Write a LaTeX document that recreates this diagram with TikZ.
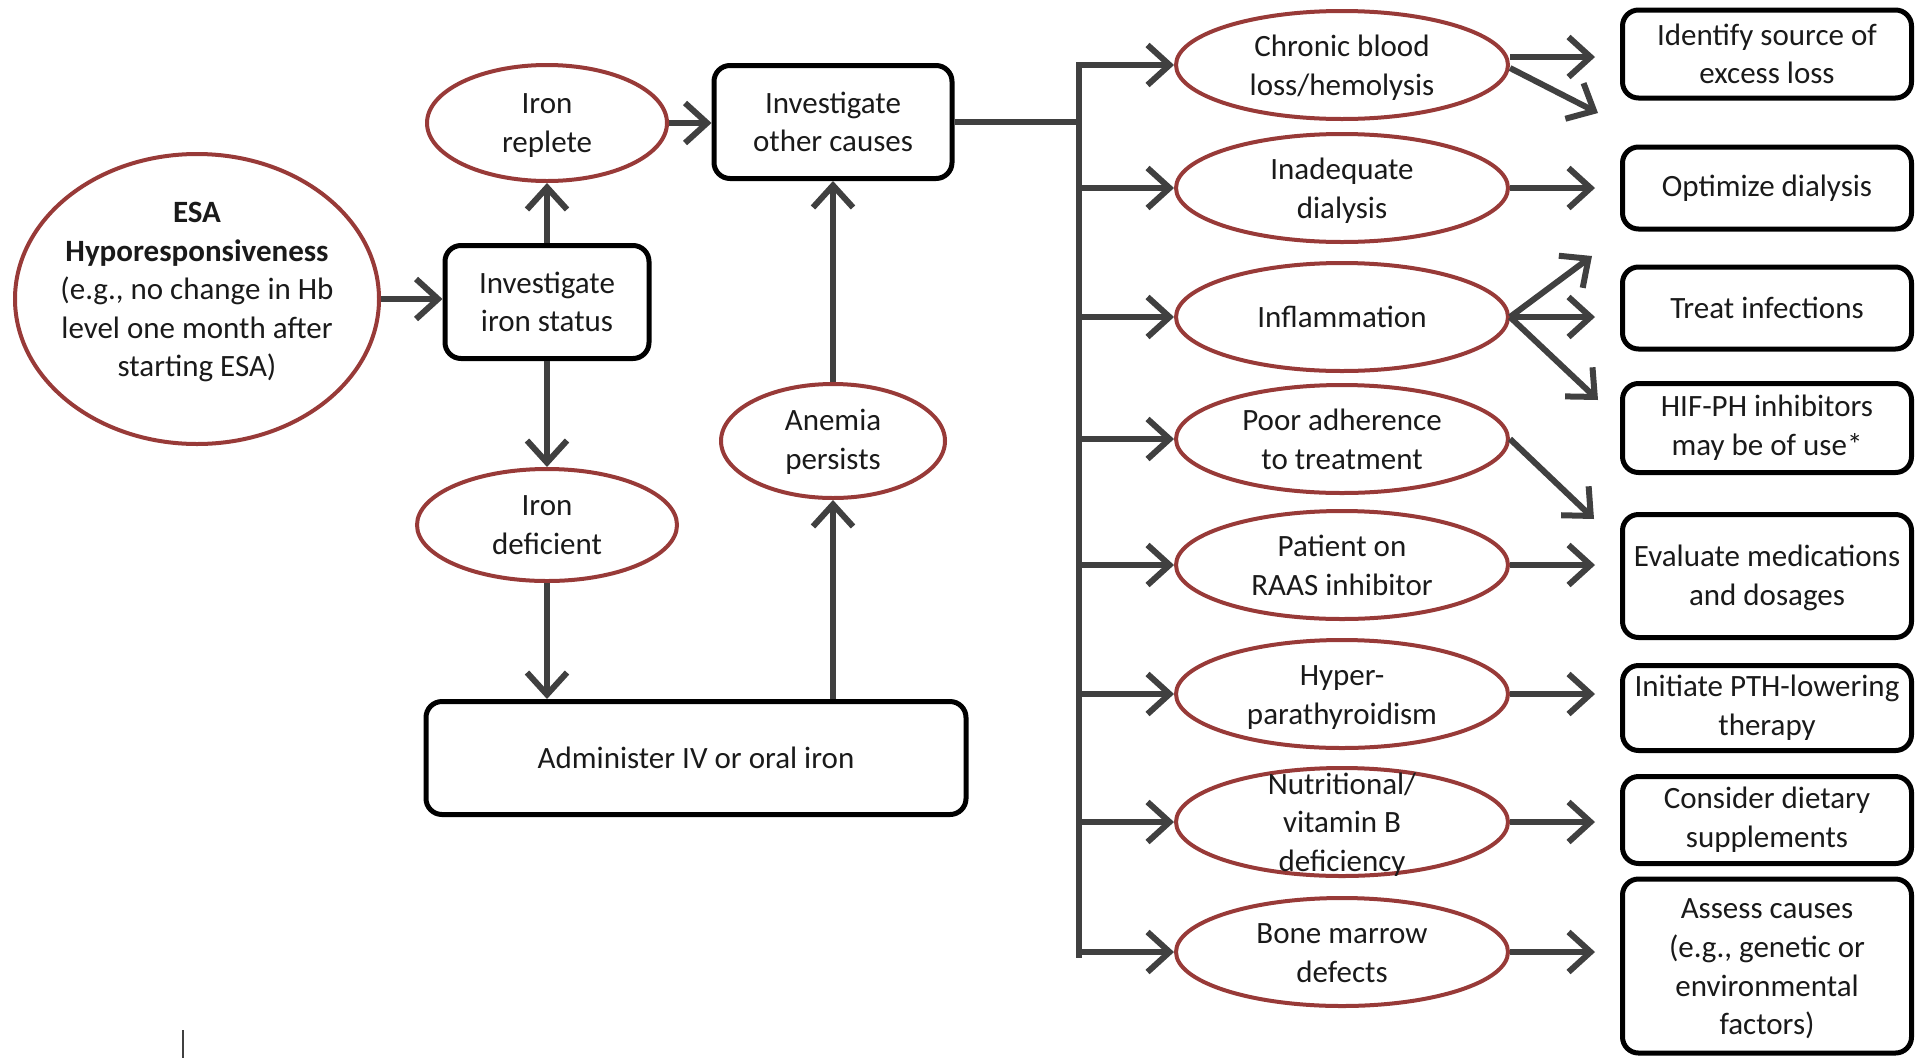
\documentclass[tikz,border=0pt]{standalone}
\usepackage{fontspec}
\setmainfont{Carlito}
\usetikzlibrary{arrows.meta,shapes.geometric}
\definecolor{redc}{HTML}{983A38}
\definecolor{grayc}{HTML}{404040}
\definecolor{txtc}{HTML}{1A1A1A}
\newcommand\shtxt[2]{\raisebox{#1}[\height][\depth]{\begin{tabular}{@{}c@{}}#2\end{tabular}}}
\begin{document}
\begin{tikzpicture}[x=1pt,y=-1pt,
  txt/.style={font=\fontsize{31}{38.6}\selectfont, align=center, text=txtc},
  ell/.style={txt, ellipse, draw=redc, line width=4pt, inner xsep=-15pt, inner ysep=-30pt},
  box/.style={txt, draw=black, line width=5pt, rounded corners=16pt, inner sep=0pt},
  arr/.style={draw=grayc, line width=6pt, -{Straight Barb[length=22pt,width=40pt]}},
  ln/.style={draw=grayc, line width=6pt}]
\useasboundingbox (0,0) rectangle (1927,1058);
% left part
\node[ell, minimum width=364pt, minimum height=290pt] (esa) at (197,299)
  {\shtxt{7pt}{\textbf{ESA}\\\textbf{Hyporesponsiveness}\\(e.g., no change in Hb\\level one month after\\starting ESA)}};
\node[box, minimum width=204pt, minimum height=113pt] (iis) at (547,302) {Investigate\\iron status};
\node[ell, minimum width=240pt, minimum height=116pt] (rep) at (547,123) {\shtxt{-2pt}{Iron\\replete}};
\node[box, minimum width=238pt, minimum height=113pt] (oc) at (833,122) {Investigate\\other causes};
\node[ell, minimum width=260pt, minimum height=112pt] (def) at (547,525) {Iron\\deficient};
\node[box, minimum width=540pt, minimum height=113pt] (adm) at (696,758) {Administer IV or oral iron};
\node[ell, minimum width=224pt, minimum height=114pt] (ane) at (833,441) {\shtxt{-1pt}{Anemia\\persists}};
% middle ellipses
\foreach \n/\y/\t in {c1/65/{Chronic blood\\loss/hemolysis},
                      c2/188/{Inadequate\\dialysis},
                      c3/317/{Inflammation},
                      c4/439/{Poor adherence\\to treatment},
                      c5/565/{Patient on\\RAAS inhibitor},
                      c6/694/{Hyper-\\parathyroidism},
                      c7/822/{Nutritional/\\vitamin B\\deficiency},
                      c8/952/{Bone marrow\\defects}}
  \node[ell, minimum width=332pt, minimum height=108pt] (\n) at (1342,\y) {\shtxt{-3pt}{\t}};
% right boxes
\node[box, minimum width=289pt, minimum height=88pt] (r1) at (1767,54) {Identify source of\\excess loss};
\node[box, minimum width=289pt, minimum height=82pt] (r2) at (1767,188) {Optimize dialysis};
\node[box, minimum width=289pt, minimum height=82pt] (r3) at (1767,308) {Treat infections};
\node[box, minimum width=289pt, minimum height=89pt] (r4) at (1767,428) {HIF-PH inhibitors\\may be of use*};
\node[box, minimum width=289pt, minimum height=123pt] (r5) at (1767,576) {\shtxt{-2pt}{Evaluate medications\\and dosages}};
\node[box, minimum width=289pt, minimum height=85pt] (r6) at (1767,708) {Initiate PTH-lowering\\therapy};
\node[box, minimum width=289pt, minimum height=87pt] (r7) at (1767,820) {Consider dietary\\supplements};
\node[box, minimum width=289pt, minimum height=174pt] (r8) at (1767,966) {\shtxt{-3pt}{Assess causes\\(e.g., genetic or\\environmental\\factors)}};
% left connectors
\draw[arr] (esa.east) -- (esa.east -| iis.west);
\draw[arr] (iis.north) -- (rep.south);
\draw[arr] (iis.south) -- (def.north);
\draw[arr] (rep.east) -- (rep.east -| oc.west);
\draw[arr] (def.south) -- (def.south |- adm.north);
\draw[arr] (ane.south |- adm.north) -- (ane.south);
\draw[arr] (ane.north) -- (oc.south);
% trunk
\coordinate (tt) at (1079,65);
\coordinate (tb) at (1079,955);
\draw[ln] (oc.east) -- (oc.east -| tt);
\draw[ln, line cap=rect] (tt) -- (tb);
\foreach \n in {c1,c2,c3,c4,c5,c6,c7,c8}
  \draw[arr] (tt |- \n.west) -- (\n.west);
% right connectors
\coordinate (d1) at (1598,113);
\coordinate (u3) at (1592,256);
\coordinate (d3) at (1598,400);
\coordinate (d4) at (1594,519);
\draw[arr] ([yshift=8pt]c1.east) -- ([yshift=8pt,xshift=-25pt]c1.east -| r1.west);
\draw[arr] ([yshift=-3pt]c1.east) -- (d1);
\draw[arr] (c2.east) -- ([xshift=-25pt]c2.east -| r2.west);
\draw[arr] (c3.east) -- (u3);
\draw[arr] (c3.east) -- ([xshift=-25pt]c3.east -| r3.west);
\draw[arr] (c3.east) -- (d3);
\draw[arr] (c4.east) -- (d4);
\draw[arr] (c5.east) -- ([xshift=-25pt]c5.east -| r5.west);
\draw[arr] (c6.east) -- ([xshift=-25pt]c6.east -| r6.west);
\draw[arr] (c7.east) -- ([xshift=-25pt]c7.east -| r7.west);
\draw[arr] (c8.east) -- ([xshift=-25pt]c8.east -| r8.west);
% small mark bottom left
\draw[grayc, line width=2pt] (183,1030) -- (183,1058);
\end{tikzpicture}
\end{document}
